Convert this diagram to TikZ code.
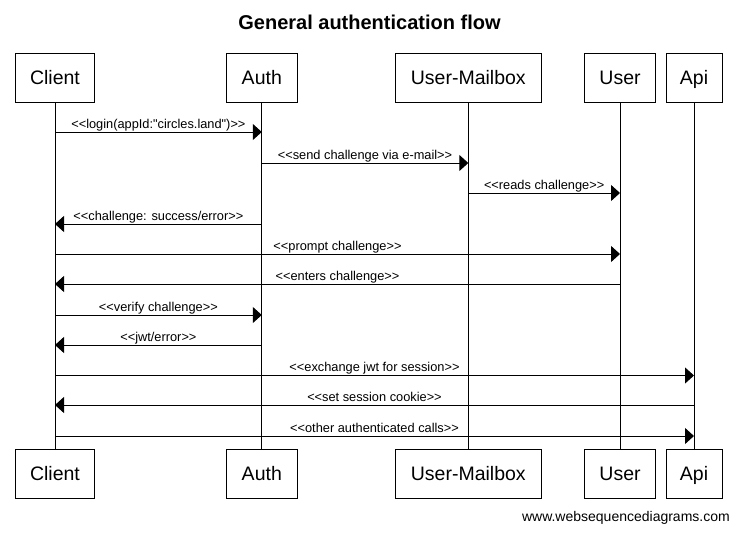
\documentclass[tikz,border=0pt]{standalone}
\usepackage{fontspec}
\setmainfont{Liberation Sans}[Ligatures=TeXOff]
\usetikzlibrary{arrows.meta}
\begin{document}
\begin{tikzpicture}[x=1pt,y=-1pt,
  part/.style={draw,line width=1pt,minimum height=49pt,inner sep=0pt,text height=14pt,text depth=0pt,font=\fontsize{19.5}{22}\selectfont},
  life/.style={line width=1pt},
  msg/.style={line width=1pt,-{Triangle[length=9pt,width=16pt]}},
  lbl/.style={anchor=base,yshift=3.8pt,inner sep=0pt,font=\fontsize{12.8}{14}\selectfont}]
\useasboundingbox (0,0) rectangle (739,533);
\node[font=\bfseries\fontsize{20}{22}\selectfont] (title) at (369.5,22) {General authentication flow};
% top participants
\node[part,minimum width=79.4pt] (Client) at (55,77.8) {Client};
\node[part,minimum width=71pt] (Auth) at (261.8,77.8) {Auth};
\node[part,minimum width=146pt] (Mailbox) at (468.3,77.8) {User-Mailbox};
\node[part,minimum width=71.4pt] (User) at (620,77.8) {User};
\node[part,minimum width=56pt] (Api) at (694,77.8) {Api};
% bottom participants
\node[part,minimum width=79.4pt] (Client2) at (55,473.8) {Client};
\node[part,minimum width=71pt] (Auth2) at (261.8,473.8) {Auth};
\node[part,minimum width=146pt] (Mailbox2) at (468.3,473.8) {User-Mailbox};
\node[part,minimum width=71.4pt] (User2) at (620,473.8) {User};
\node[part,minimum width=56pt] (Api2) at (694,473.8) {Api};
% lifelines
\foreach \a/\b in {Client/Client2,Auth/Auth2,Mailbox/Mailbox2,User/User2,Api/Api2}
  \draw[life] (\a.south) -- (\b.north);
% messages
\draw[msg] (Client |- 0,132) -- node[lbl]{<<login(appId:"circles.land")>>} (Auth |- 0,132);
\draw[msg] (Auth |- 0,163) -- node[lbl]{<<send challenge via e-mail>>} (Mailbox |- 0,163);
\draw[msg] (Mailbox |- 0,193) -- node[lbl]{<<reads challenge>>} (User |- 0,193);
\draw[msg] (Auth |- 0,224) -- node[lbl]{<<challenge: success/error>>} (Client |- 0,224);
\draw[msg] (Client |- 0,254) -- node[lbl]{<<prompt challenge>>} (User |- 0,254);
\draw[msg] (User |- 0,284) -- node[lbl]{<<enters challenge>>} (Client |- 0,284);
\draw[msg] (Client |- 0,315) -- node[lbl]{<<verify challenge>>} (Auth |- 0,315);
\draw[msg] (Auth |- 0,345) -- node[lbl]{<<jwt/error>>} (Client |- 0,345);
\draw[msg] (Client |- 0,375.5) -- node[lbl]{<<exchange jwt for session>>} (Api |- 0,375.5);
\draw[msg] (Api |- 0,405) -- node[lbl]{<<set session cookie>>} (Client |- 0,405);
\draw[msg] (Client |- 0,436) -- node[lbl]{<<other authenticated calls>>} (Api |- 0,436);
% watermark
\node[anchor=base east,inner sep=0pt,font=\fontsize{14}{16}\selectfont] (wm) at (730,521) {www.websequencediagrams.com};
\end{tikzpicture}
\end{document}
